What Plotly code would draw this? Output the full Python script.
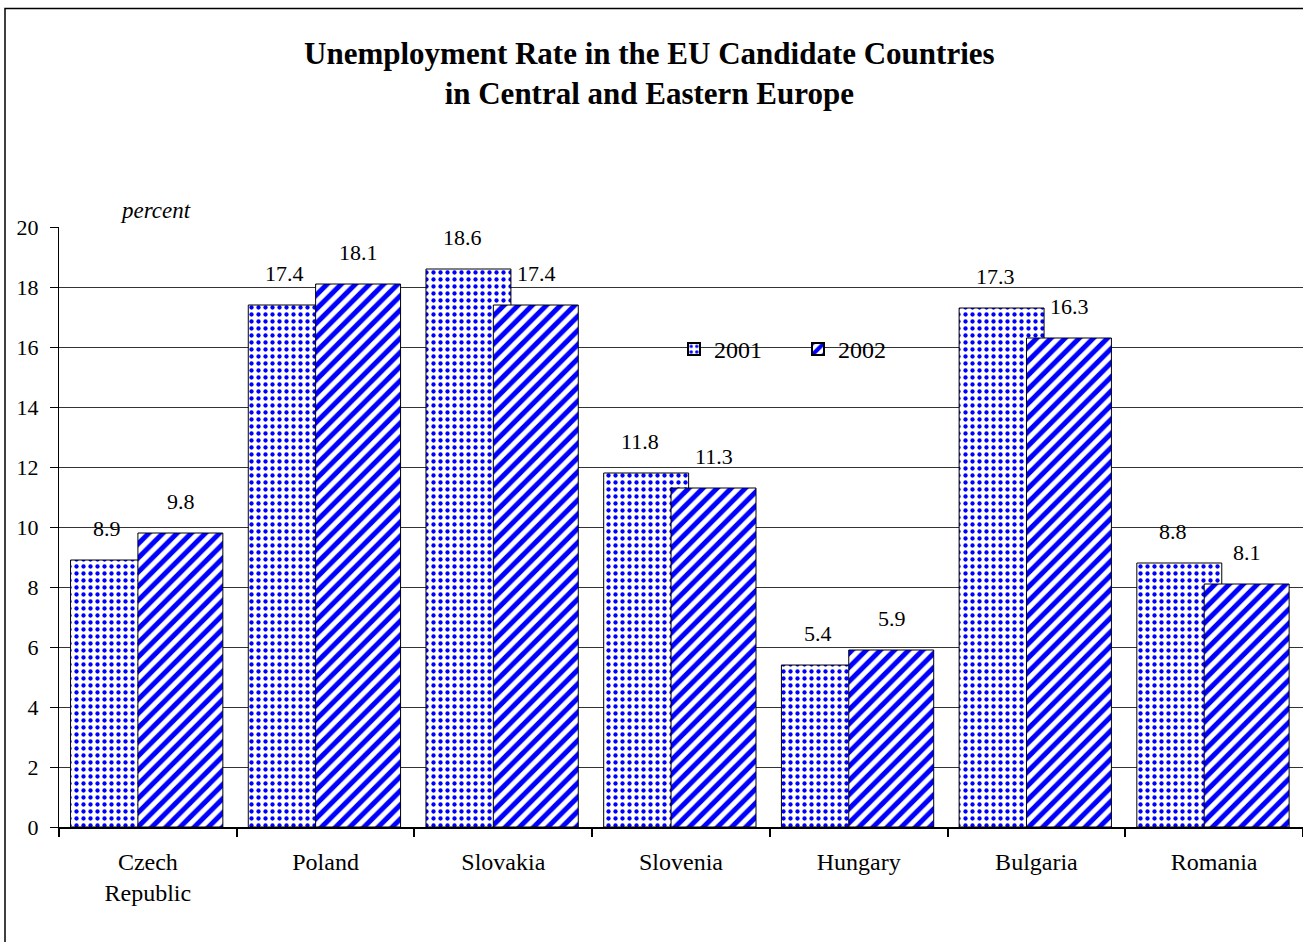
import plotly.graph_objects as go

countries = ["Czech Republic", "Poland", "Slovakia", "Slovenia", "Hungary", "Bulgaria", "Romania"]
tick_text = ["Czech<br>Republic", "Poland", "Slovakia", "Slovenia", "Hungary", "Bulgaria", "Romania"]
rate_2001 = [8.9, 17.4, 18.6, 11.8, 5.4, 17.3, 8.8]
rate_2002 = [9.8, 18.1, 17.4, 11.3, 5.9, 16.3, 8.1]
y_ticks = [0, 2, 4, 6, 8, 10, 12, 14, 16, 18, 20]

SERIF = "Liberation Serif, Times New Roman, serif"
BLUE = "#0000FF"

fig = go.Figure()
fig.add_trace(go.Bar(
    name="2001", x=countries, y=rate_2001,
    width=0.478, offset=-0.435,
    marker=dict(color="white", line=dict(color="black", width=1),
                pattern=dict(shape=".", fgcolor=BLUE, bgcolor="white", fgopacity=1,
                             size=7, solidity=0.3, fillmode="replace")),
))
fig.add_trace(go.Bar(
    name="2002", x=countries, y=rate_2002,
    width=0.478, offset=-0.056,
    marker=dict(color="white", line=dict(color="black", width=1),
                pattern=dict(shape="/", fgcolor=BLUE, bgcolor="white", fgopacity=1,
                             size=10, solidity=0.5, fillmode="replace")),
))

# value labels above each bar
annotations = []
for c, v in zip(countries, rate_2001):
    annotations.append(dict(x=c, y=v, text=f"{v:.1f}", showarrow=False,
                            xref="x", yref="y", xshift=-41, yshift=17,
                            yanchor="bottom", font=dict(family=SERIF, size=22, color="black")))
for c, v in zip(countries, rate_2002):
    annotations.append(dict(x=c, y=v, text=f"{v:.1f}", showarrow=False,
                            xref="x", yref="y", xshift=33, yshift=17,
                            yanchor="bottom", font=dict(family=SERIF, size=22, color="black")))

annotations.append(dict(x=(155 - 59) / 1244, y=1 + (227 - 210) / 600, xref="paper", yref="paper",
                        text="<i>percent</i>", showarrow=False, xanchor="center", yanchor="middle",
                        font=dict(family=SERIF, size=23, color="black")))

annotations.append(dict(x=(649 - 59) / 1244, y=1 + (227 - 73) / 600, xref="paper", yref="paper",
                        text="<b>Unemployment Rate in the EU Candidate Countries<br>in Central and Eastern Europe</b>",
                        showarrow=False, xanchor="center", yanchor="middle",
                        font=dict(family=SERIF, size=31, color="black")))

shapes = [
    # white panel behind the legend, over the gridlines
    dict(type="rect", xref="paper", yref="paper", layer="between",
         x0=(655 - 59) / 1244, x1=(910 - 59) / 1244,
         y0=1 - (390 - 227) / 600, y1=1 - (272 - 227) / 600,
         fillcolor="white", line=dict(width=0)),
    # chart frame
    dict(type="rect", xref="paper", yref="paper", layer="above",
         x0=(5 - 59) / 1244, x1=1.2, y0=-0.4, y1=1 + (227 - 8.5) / 600,
         fillcolor="rgba(0,0,0,0)", line=dict(color="black", width=1.5)),
]

fig.update_layout(
    width=1303, height=942,
    margin=dict(l=59, r=0, t=227, b=115),
    paper_bgcolor="white", plot_bgcolor="white",
    barmode="overlay",
    font=dict(family=SERIF, size=22, color="black"),
    showlegend=True,
    legend=dict(orientation="h", x=(674 - 59) / 1244, y=1 - (327 - 227) / 600,
                xanchor="left", yanchor="top", bgcolor="rgba(0,0,0,0)",
                entrywidth=79, entrywidthmode="pixels",
                font=dict(family=SERIF, size=24), itemsizing="constant"),
    annotations=annotations,
    shapes=shapes,
    xaxis=dict(type="category", tickvals=countries, ticktext=tick_text,
               tickson="boundaries", ticks="outside", ticklen=8, tickwidth=2,
               tickcolor="black", showline=True, linecolor="black", linewidth=2,
               showgrid=False, range=[-0.5, 6.5], ticklabelstandoff=12,
               tickfont=dict(family=SERIF, size=24)),
    yaxis=dict(range=[0, 20], tickvals=y_ticks, ticks="outside", ticklen=8,
               tickcolor="black", showline=True, linecolor="black", linewidth=1,
               showgrid=True, gridcolor="#333333", gridwidth=1, ticklabelstandoff=7,
               tickfont=dict(family=SERIF, size=22)),
)

fig.write_html("out.html")
